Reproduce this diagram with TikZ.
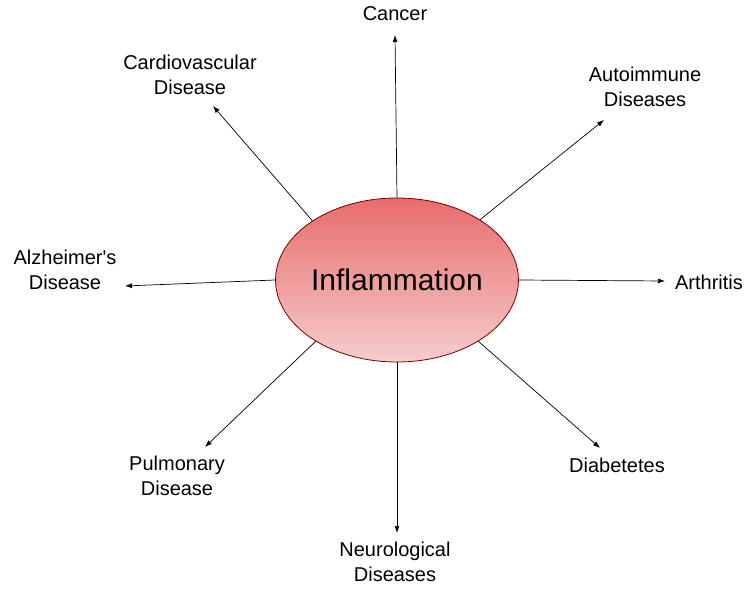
\documentclass[tikz,border=0pt]{standalone}
\usepackage{fontspec}
\usetikzlibrary{shapes.geometric,arrows.meta}
\setmainfont{Liberation Sans}[Ligatures=TeXOff]
\begin{document}
\begin{tikzpicture}[x=1pt,y=-1pt,
  lab/.style={font=\fontsize{20}{25}\selectfont,align=center,inner sep=0pt},
  arr/.style={-{Latex[length=7pt,width=5pt]},line width=0.7pt}]
\useasboundingbox (0,0) rectangle (750,593);
\node[ellipse,minimum width=228pt,minimum height=164pt,inner sep=0pt,draw=red!45!black,line width=0.8pt,
  top color={rgb,255:red,232;green,108;blue,108},bottom color={rgb,255:red,246;green,205;blue,205},
  font=\fontsize{30}{32}\selectfont] (c) at (397,280) {Inflammation};
\node[lab] (t1) at (395,14) {Cancer};
\node[lab] (t2) at (190,75) {Cardiovascular\\Disease};
\node[lab] (t3) at (645,87) {Autoimmune\\Diseases};
\node[lab] (t4) at (65,270) {Alzheimer's\\Disease};
\node[lab] (t5) at (709,282) {Arthritis};
\node[lab] (t6) at (177,476) {Pulmonary\\Disease};
\node[lab] (t7) at (617,465) {Diabetetes};
\node[lab] (t8) at (395,562) {Neurological\\Diseases};
\coordinate (e1) at (395,35);
\coordinate (e2) at (213,106);
\coordinate (e3) at (604,120);
\coordinate (e4) at (125,286);
\coordinate (e5) at (665,281);
\coordinate (e6) at (205,447);
\coordinate (e7) at (600,448);
\coordinate (e8) at (397,533);
\draw[arr] (c.north) -- (e1);
\draw[arr] (c.145) -- (e2);
\draw[arr] (c.36) -- (e3);
\draw[arr] (c.west) -- (e4);
\draw[arr] (c.east) -- (e5);
\draw[arr] (c.217) -- (e6);
\draw[arr] (c.323) -- (e7);
\draw[arr] (c.south) -- (e8);
\end{tikzpicture}
\end{document}
